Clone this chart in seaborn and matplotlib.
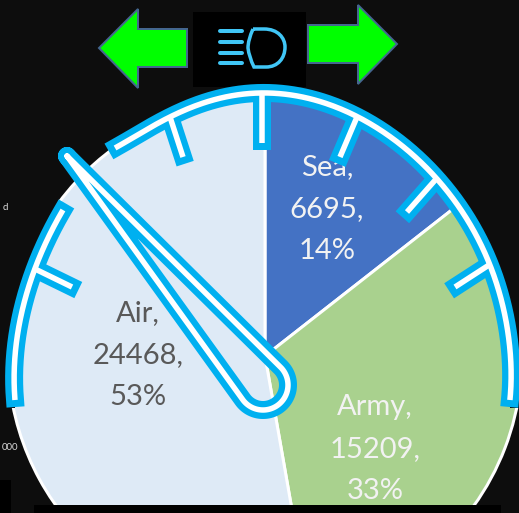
import numpy as np
import seaborn as sns
import matplotlib
matplotlib.use("Agg")
import matplotlib.pyplot as plt
from matplotlib.path import Path
from matplotlib.patches import PathPatch, Polygon, Rectangle

# ---- data ----
categories = ["Sea", "Army", "Air"]
values = [6695, 15209, 24468]
percents = [14, 33, 53]
slice_colors = ["#4472C4", "#A9D18E", "#DEEAF6"]
label_colors = ["#F2F2F2", "#F2F2F2", "#595959"]

BG = "#0D0D0D"
BLUE = "#00B0F0"
sns.set_theme(style="white", rc={"figure.facecolor": BG, "axes.facecolor": BG})
plt.rcParams["font.family"] = ["Lato", "DejaVu Sans"]

fig = plt.figure(figsize=(5.19, 5.13), dpi=100, facecolor=BG)
ax = fig.add_axes([0, 0, 1, 1])
PX = 0.72

# pie: y axis is inverted, so counterclock in data space reads clockwise on screen
ax.pie(values, colors=slice_colors, center=(265, 356), radius=257, startangle=-90,
       counterclock=True, frame=True,
       wedgeprops=dict(edgecolor="white", linewidth=3 * PX))
ax.set_xlim(0, 519)
ax.set_ylim(513, 0)
ax.set_aspect("auto")
ax.axis("off")

label_pos = [(327, 209), (375, 449), (138, 355)]
for c, v, p, col, (x, y) in zip(categories, values, percents, label_colors, label_pos):
    ax.text(x, y, f"{c},\n{v},\n{p}%", color=col, ha="center", va="center",
            fontsize=21, linespacing=1.74, zorder=3)

# gauge outline: hand-drawn freeform in the reference
upper_way = np.array([(115, 148), (170, 117), (215, 100), (262, 92), (310, 99), (357, 117), (392, 138),
                      (437, 178), (466, 220), (489, 260), (502, 303), (509, 343), (510, 400)], float)
left_way = np.array([(15, 400), (17, 337), (29, 287), (38, 260), (63, 210)], float)


def smooth(way, deg):
    s = np.r_[0, np.cumsum(np.hypot(*np.diff(way, axis=0).T))]
    s = s / s[-1]
    t = np.linspace(0, 1, 300)
    return np.c_[np.polyval(np.polyfit(s, way[:, 0], deg), t),
                 np.polyval(np.polyfit(s, way[:, 1], deg), t)]


upper = smooth(upper_way, 6)
left = smooth(left_way, 3)
# both band feet end flat and level
upper = np.vstack([upper, [(upper[-1, 0], 400)]])
left = np.vstack([[(left[0, 0], 400)], left])

# the pie never shows outside the gauge band: background-coloured masks beyond it
ax.add_patch(Polygon(np.vstack([upper, [(510, 408), (530, 408), (530, -10), (115, -10)]]),
                     closed=True, fc=BG, ec="none", zorder=3.5))
ax.add_patch(Polygon(np.vstack([left, [(58, 200), (-10, 200), (-10, 408), (15, 408)]]),
                     closed=True, fc=BG, ec="none", zorder=3.5))

ticks = [
    ((170, 117), (183, 157)), ((262, 92), (262, 143)), ((357, 117), (340, 157)),
    ((437, 178), (407, 212)), ((489, 265), (455, 287)), ((33, 268), (72, 287)),
]
# teardrop needle
T = np.array([67.0, 156.0])
C = np.array([263.0, 385.0])
r = 25.0
d = C - T
L = np.hypot(*d)
base = np.arctan2(d[1], d[0])
off = np.arccos(r / L)
th = np.linspace(base + np.pi - off, base - np.pi + off, 80)
ring = np.c_[C[0] + r * np.cos(th), C[1] + r * np.sin(th)]
needle = np.vstack([T, ring, T])


def stroke(xs, ys, w, col, z):
    ax.plot(xs, ys, color=col, lw=w * PX, solid_capstyle="butt", solid_joinstyle="round", zorder=z)


def extend(c, n):
    u0 = c[0] - c[3]
    u1 = c[-1] - c[-4]
    return np.vstack([c[0] + n * u0 / np.hypot(*u0), c, c[-1] + n * u1 / np.hypot(*u1)])


for c in (upper, left):
    e = extend(c, 7)
    stroke(e[:, 0], e[:, 1], 18, BLUE, 4)
for p0, p1 in ticks:
    p0, p1 = np.array(p0, float), np.array(p1, float)
    u = (p1 - p0) / np.hypot(*(p1 - p0))
    e = p1 + 7 * u
    stroke([p0[0], e[0]], [p0[1], e[1]], 18, BLUE, 4)
for c in (upper, left):
    stroke(c[:, 0], c[:, 1], 5.5, "white", 5)
for p0, p1 in ticks:
    stroke([p0[0], p1[0]], [p0[1], p1[1]], 5.5, "white", 5)
ax.plot(needle[:, 0], needle[:, 1], color=BLUE, lw=18 * PX, solid_joinstyle="round", zorder=6)
ax.plot(needle[:, 0], needle[:, 1], color="white", lw=5.5 * PX, solid_joinstyle="round", zorder=7)

# black strips clipping the chart
for xy, w, h in [((34, 505), 467, 8), ((0, 480), 11, 33)]:
    ax.add_patch(Rectangle(xy, w, h, fc="black", ec="none", zorder=8))

# headlight icon
ax.add_patch(Rectangle((193, 12), 113, 75, fc="black", ec="none", zorder=3.6))
ICON = "#40C6F6"
for yy in (31, 42, 53, 63):
    ax.plot([219.5, 242], [yy, yy], color=ICON, lw=4 * PX, solid_capstyle="round", zorder=3.7)
d_path = Path(
    [(253, 29), (264, 29), (278, 29), (285, 38), (285, 47), (285, 58), (278, 67), (266, 67),
     (254, 67), (249, 57), (248, 48), (248, 40), (253, 29)],
    [Path.MOVETO, Path.LINETO, Path.CURVE4, Path.CURVE4, Path.CURVE4, Path.CURVE4, Path.CURVE4, Path.CURVE4,
     Path.LINETO, Path.CURVE3, Path.CURVE3, Path.CURVE3, Path.CURVE3],
)
ax.add_patch(PathPatch(d_path, fc="none", ec=ICON, lw=3.5 * PX, zorder=3.7))

# arrows
AR_EDGE = "#44678F"
ax.add_patch(Polygon([(99, 48), (138, 9), (138, 29), (187, 29), (187, 67), (138, 67), (138, 88)],
                     closed=True, fc="#00FF00", ec=AR_EDGE, lw=2 * PX, zorder=3.7))
ax.add_patch(Polygon([(397, 44), (358, 5), (358, 25), (308, 25), (308, 63), (358, 63), (358, 84)],
                     closed=True, fc="#00FF00", ec=AR_EDGE, lw=2 * PX, zorder=3.7))

# clipped remnants of axis labels at the left edge
ax.text(8, 208, "d", color="#D9D9D9", fontsize=7, ha="right", va="center", zorder=3.7)
ax.text(18, 448, "000", color="#D9D9D9", fontsize=7, ha="right", va="center", zorder=3.7)

fig.savefig("out.png", dpi=100, facecolor=BG)
